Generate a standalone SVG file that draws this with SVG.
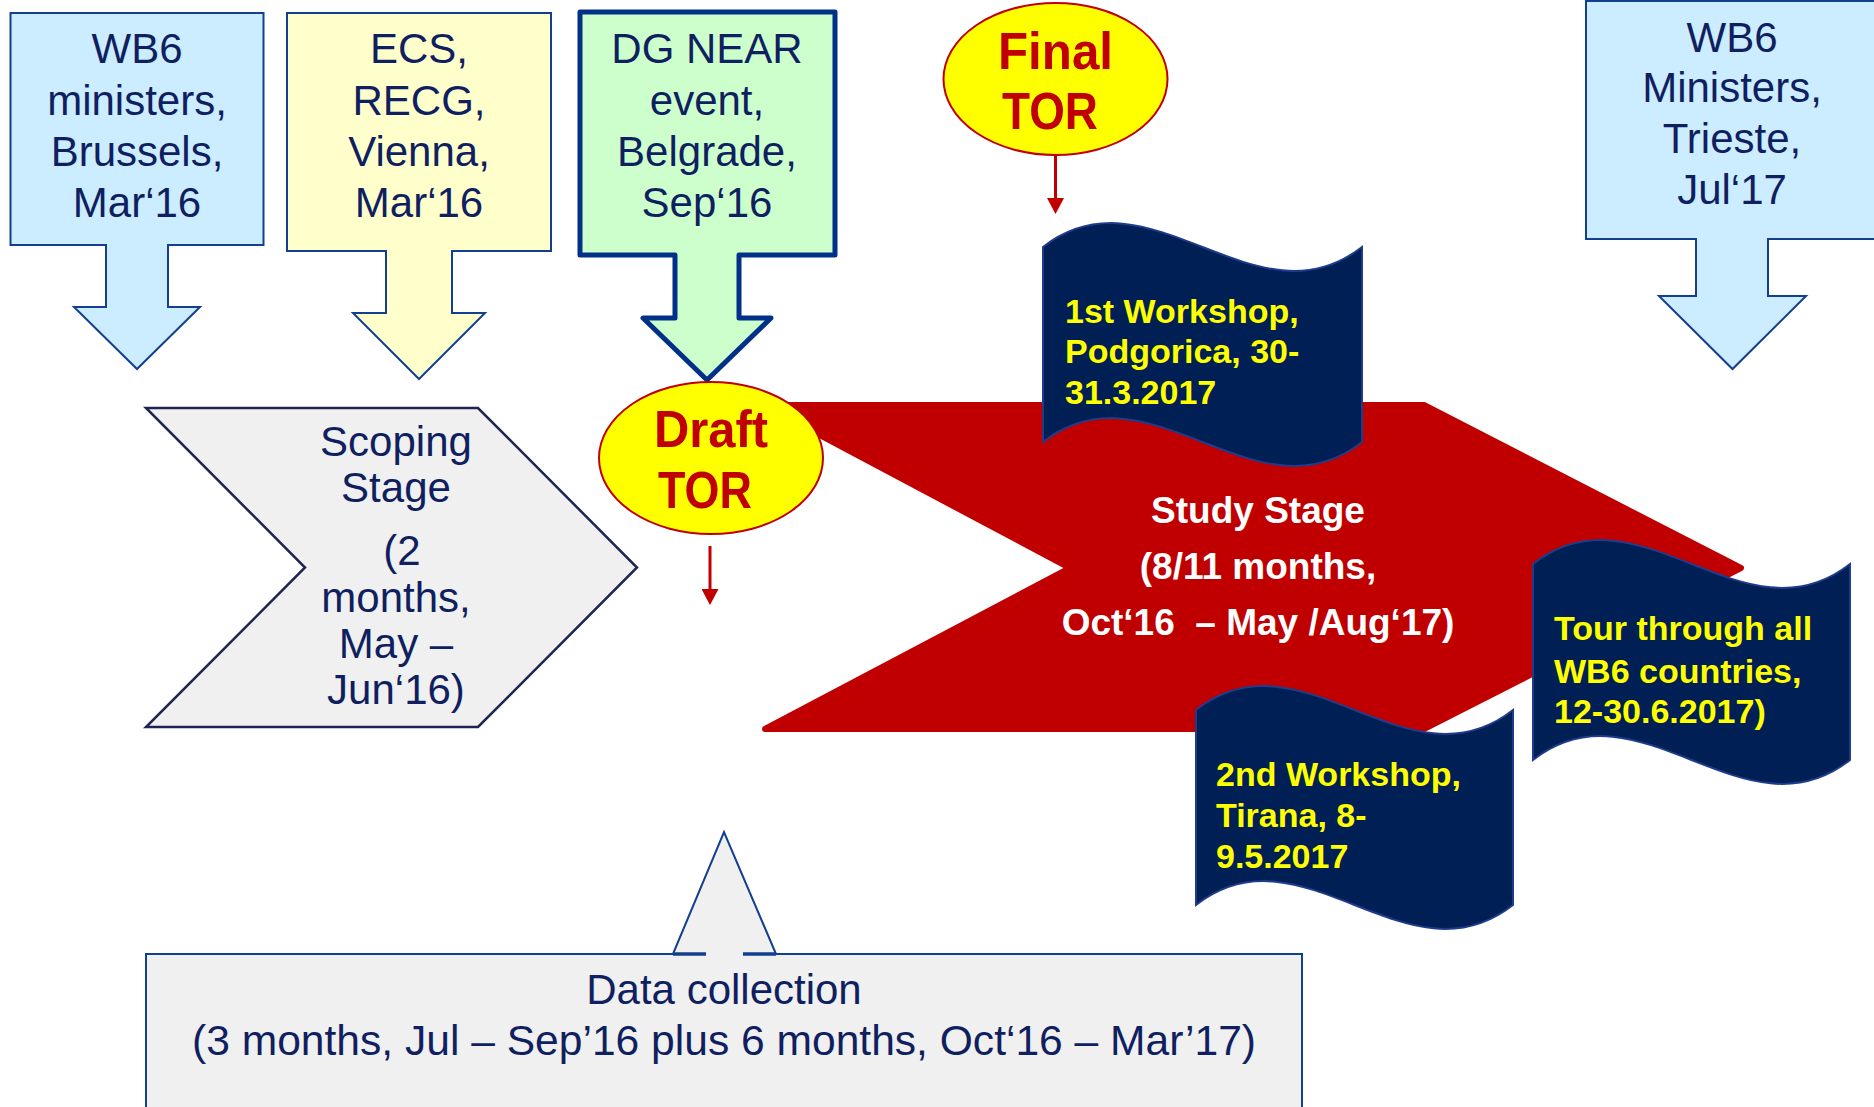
<svg xmlns="http://www.w3.org/2000/svg" width="1874" height="1107" viewBox="0 0 1874 1107">
<style>
text{font-family:"Liberation Sans",Arial,sans-serif}
.box{stroke:#12408E;stroke-width:2}
.lbl{font-size:42px;fill:#0F1F5F;text-anchor:middle}
.tor{font-size:52px;font-weight:bold;fill:#C00000;text-anchor:middle}
.ell{fill:#FFFF00;stroke:#C00000;stroke-width:2}
.flag{fill:#001F54;stroke:#1F3C8C;stroke-width:2}
.ftxt{font-size:34px;font-weight:bold;fill:#FFFF00}
.study{font-size:37px;font-weight:bold;fill:#FFFFFF;text-anchor:middle}
.conn{stroke:#C00000;stroke-width:3;fill:none}
</style>
<defs>
<marker id="ah" viewBox="0 0 16 17" refX="0" refY="8.5" markerWidth="16" markerHeight="17" markerUnits="userSpaceOnUse" orient="auto">
<path d="M0,0 L16,8.5 L0,17 Z" fill="#C00000"/>
</marker>
</defs>
<rect width="1874" height="1107" fill="#FFFFFF"/>

<g id="study-stage">
<path d="M763,405 H1424 L1741,568 L1424,729 H765 L1070,568 Z" fill="#C00000" stroke="#C00000" stroke-width="6" stroke-linejoin="round"/>
<text class="study" x="1258" y="523">Study Stage</text>
<text class="study" x="1258" y="579">(8/11 months,</text>
<text class="study" x="1258" y="635" xml:space="preserve">Oct‘16  – May /Aug‘17)</text>
</g>

<g id="workshop1">
<path class="flag" d="M1043,247 C1149,164 1256,330 1362,247 L1362,442 C1256,525 1149,359 1043,442 Z"/>
<text class="ftxt" x="1065" y="323">1st Workshop,</text>
<text class="ftxt" x="1065" y="363">Podgorica, 30-</text>
<text class="ftxt" x="1065" y="404">31.3.2017</text>
</g>

<g id="workshop2">
<path class="flag" d="M1196,710 C1302,627 1407,793 1513,710 L1513,905 C1407,988 1302,822 1196,905 Z"/>
<text class="ftxt" x="1216" y="786">2nd Workshop,</text>
<text class="ftxt" x="1216" y="827">Tirana, 8-</text>
<text class="ftxt" x="1216" y="868">9.5.2017</text>
</g>

<g id="tour">
<path class="flag" d="M1533,564 C1639,481 1744,647 1850,564 L1850,760 C1744,843 1639,677 1533,760 Z"/>
<text class="ftxt" x="1554" y="640">Tour through all</text>
<text class="ftxt" x="1554" y="683">WB6 countries,</text>
<text class="ftxt" x="1554" y="723">12-30.6.2017)</text>
</g>

<g id="wb6-brussels">
<path class="box" fill="#CCECFF" d="M10.5,13 H263.5 V245 H168 V307 H200 L137,369 L74,307 H106 V245 H10.5 Z"/>
<text class="lbl" x="137" y="63">WB6</text>
<text class="lbl" x="137" y="115">ministers,</text>
<text class="lbl" x="137" y="166">Brussels,</text>
<text class="lbl" x="137" y="217">Mar‘16</text>
</g>

<g id="ecs-vienna">
<path class="box" fill="#FFFFCC" d="M287,13 H551 V251 H452 V313 H485 L419,379 L353,313 H386 V251 H287 Z"/>
<text class="lbl" x="419" y="63">ECS,</text>
<text class="lbl" x="419" y="115">RECG,</text>
<text class="lbl" x="419" y="166">Vienna,</text>
<text class="lbl" x="419" y="217">Mar‘16</text>
</g>

<g id="dg-near">
<path fill="#CCFFCC" stroke="#003087" stroke-width="5" stroke-linejoin="round" d="M580,12 H835 V255 H739 V318 H771 L707,380 L643,318 H675 V255 H580 Z"/>
<text class="lbl" x="707" y="63">DG NEAR</text>
<text class="lbl" x="707" y="115">event,</text>
<text class="lbl" x="707" y="166">Belgrade,</text>
<text class="lbl" x="707" y="217">Sep‘16</text>
</g>

<g id="wb6-trieste">
<path class="box" fill="#CCECFF" d="M1586,1 H1880 V239 H1768 V296 H1806 L1732.5,369 L1659,296 H1696 V239 H1586 Z"/>
<text class="lbl" x="1732" y="52">WB6</text>
<text class="lbl" x="1732" y="102">Ministers,</text>
<text class="lbl" x="1732" y="153">Trieste,</text>
<text class="lbl" x="1732" y="204">Jul‘17</text>
</g>

<g id="scoping-stage">
<path fill="#F0F0F0" stroke="#1F2452" stroke-width="2.5" d="M146,408 H478 L637,567.5 L478,727 H146 L305,567.5 Z"/>
<text class="lbl" x="396" y="456">Scoping</text>
<text class="lbl" x="396" y="502">Stage</text>
<text class="lbl" x="402" y="565">(2</text>
<text class="lbl" x="396" y="612">months,</text>
<text class="lbl" x="396" y="658">May –</text>
<text class="lbl" x="396" y="704">Jun‘16)</text>
</g>

<g id="final-tor">
<ellipse class="ell" cx="1055.5" cy="79" rx="112" ry="76"/>
<text class="tor" x="1055.5" y="69" textLength="115" lengthAdjust="spacingAndGlyphs">Final</text>
<text class="tor" x="1050" y="129" textLength="96" lengthAdjust="spacingAndGlyphs">TOR</text>
</g>

<g id="draft-tor">
<ellipse class="ell" cx="711" cy="458" rx="112" ry="76"/>
<text class="tor" x="711" y="447" textLength="114" lengthAdjust="spacingAndGlyphs">Draft</text>
<text class="tor" x="705" y="508" textLength="94" lengthAdjust="spacingAndGlyphs">TOR</text>
</g>

<g id="data-collection">
<path fill="#F0F0F0" stroke="none" d="M146,954 H673 L724,832 L776,954 H1302 V1115 H146 Z"/>
<path fill="none" stroke="#12408E" stroke-width="2" d="M146,1115 V954 H673 L724,832 L776,954 H1302 V1115"/>
<path fill="none" stroke="#12408E" stroke-width="3.5" d="M673,954 H706 M743,954 H776"/>
<text class="lbl" x="724" y="1004">Data collection</text>
<text class="lbl" x="724" y="1055" textLength="1064" lengthAdjust="spacingAndGlyphs">(3 months, Jul – Sep’16 plus 6 months, Oct‘16 – Mar’17)</text>
</g>

<g id="connectors">
<line class="conn" x1="1055.5" y1="155" x2="1055.5" y2="198" marker-end="url(#ah)"/>
<line class="conn" x1="710" y1="546" x2="710" y2="589" marker-end="url(#ah)"/>
</g>
</svg>
